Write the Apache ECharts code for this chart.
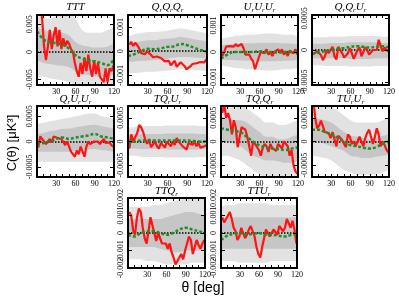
<!DOCTYPE html>
<html><head><meta charset="utf-8">
<script src="https://cdn.jsdelivr.net/npm/echarts@6/dist/echarts.min.js"></script>
<style>html,body{margin:0;padding:0;background:#fff}#c{width:399px;height:301px}</style>
</head><body><div id="c"></div>
<script>
// ---- shared axes data ----
const thetaRed = [2,5,8,11,14,17,20,23,26,29,32,35,38,41,44,47,50,53,56,59,62,65,68,71,74,77,80,83,86,89,92,95,98,101,104,107,110,113,116,119];
const thetaBand = [0,10,20,30,40,50,60,70,80,90,100,110,120];
const xTickValues = [10,20,30,40,50,60,70,80,90,100,110];
const xTickLabels = [30,60,90,120];

// ---- TTT ----
const tttRed = [0.010,0.009,0.006,0.001,-0.0015,0.001,0.004,0.0005,0.003,0.0045,0.001,0.004,0.0005,0.0025,0.001,0.002,0.0015,0.0005,0,-0.002,-0.0035,-0.0045,-0.002,-0.004,-0.001,-0.0035,-0.0005,-0.003,-0.0045,-0.0015,-0.004,-0.002,-0.0045,-0.0045,-0.0055,-0.003,-0.0055,-0.003,-0.0035,-0.0025];
const tttGreen = [0.0037,0.0023,0.0018,0.0016,0.0013,0.0006,-0.0006,-0.0012,-0.0015,-0.0017,-0.002,-0.0024,-0.0013];
const tttOuterLo = [-0.0045,-0.0045,-0.0048,-0.005,-0.0052,-0.0055,-0.006,-0.0065,-0.007,-0.007,-0.007,-0.007,-0.0065];
const tttInnerLo = [-0.0015,-0.002,-0.0022,-0.0024,-0.0025,-0.0028,-0.0035,-0.004,-0.0042,-0.0044,-0.0045,-0.0045,-0.004];
const tttInnerHi = [0.0045,0.004,0.0038,0.0037,0.0035,0.003,0.0018,0.0012,0.001,0.0008,0.0008,0.001,0.0015];
const tttOuterHi = [0.0065,0.0062,0.006,0.0065,0.007,0.007,0.006,0.004,0.0035,0.0035,0.0035,0.004,0.0045];
const tttTicks = [-0.005,0,0.005];

// ---- QrQrQr ----
const qqqRed = [0.00028,0.00038,0.00022,0.00035,0.00025,0.00012,-0.00008,-0.00015,-0.00012,0,-0.00005,-0.00015,-0.00025,-0.0002,-0.00022,-0.0003,-0.00028,-0.00028,-0.00042,-0.00045,-0.0004,-0.00058,-0.0005,-0.0004,-0.00065,-0.00058,-0.00046,-0.0004,-0.00062,-0.00075,-0.0008,-0.00062,-0.00053,-0.00055,-0.0005,-0.00055,-0.00045,-0.0004,-0.00046,-0.00033];
const qqqGreen = [-0.0002,-0.00012,0,0.0001,0.00008,0.00012,0.00018,0.0002,0.0003,0.00025,0.00015,0.00005,0];
const qqqOuterLo = [-0.0009,-0.0009,-0.00088,-0.00085,-0.00085,-0.00082,-0.0008,-0.00078,-0.00075,-0.00075,-0.00078,-0.0008,-0.00082];
const qqqInnerLo = [-0.00045,-0.00043,-0.0004,-0.00038,-0.00036,-0.00034,-0.0003,-0.00027,-0.00024,-0.00024,-0.00026,-0.00028,-0.0003];
const qqqInnerHi = [0.0003,0.00035,0.0004,0.00045,0.00045,0.0005,0.00052,0.00055,0.0006,0.00055,0.0005,0.00045,0.0004];
const qqqOuterHi = [0.0006,0.0007,0.00075,0.0008,0.0008,0.00082,0.00085,0.0009,0.00095,0.0009,0.00085,0.0008,0.00075];
const qqqTicks = [-0.001,0,0.001];

// ---- UrUrUr ----
const uuuRed = [-0.00015,0,0.0002,0.00015,0.00022,0.00015,0.0002,0.0003,0.00022,0.0002,0.0003,0.00015,-0.0001,-0.00015,-0.0001,-0.00025,-0.00035,-0.00065,-0.0006,-0.0002,0,0,-0.00005,0.0001,-0.0001,0,-0.00015,0,0,0.0001,0,0.0001,-0.0001,0,-0.00015,0.00005,0.0001,-0.00005,0.0001,-0.0001];
const uuuGreen = [-0.00025,-0.0001,0,0,0,0,0.00003,0,0,-0.00003,0,0,0];
const uuuOuterLo = [-0.0005,-0.00055,-0.0006,-0.00062,-0.00065,-0.00065,-0.00068,-0.0007,-0.0007,-0.00068,-0.00065,-0.00065,-0.0006];
const uuuInnerLo = [-0.00028,-0.0003,-0.0003,-0.00032,-0.00033,-0.00033,-0.00035,-0.00035,-0.00035,-0.00034,-0.00033,-0.00032,-0.0003];
const uuuInnerHi = [0.00025,0.00028,0.0003,0.00032,0.00033,0.00033,0.00035,0.00035,0.00035,0.00034,0.00033,0.00032,0.0003];
const uuuOuterHi = [0.0005,0.00055,0.0006,0.00062,0.00065,0.00065,0.00068,0.0007,0.0007,0.00068,0.00065,0.00065,0.0006];
const uuuTicks = [-0.001,0,0.001];

// ---- QrQrUr ----
const qquRed = [-0.00007,-0.00009,-0.00002,0,-0.00008,-0.00016,-0.0001,0,-0.00005,-0.00002,0.00005,-0.0001,-0.00015,0.00005,0,-0.00005,-0.00012,-0.00015,-0.00005,0.00003,-0.00005,-0.00014,-0.00012,0,0.00004,-0.0001,-0.00008,0.00004,0,-0.00007,-0.00004,0,0.00003,0,0.00016,0.00006,-0.00002,0.00004,0,-0.00002];
const qquGreen = [-0.00006,-0.00004,-0.00002,0,0.00002,0.00003,0.00005,0.00006,0.00005,0.00004,0.00005,0.00006,0.00004];
const qquOuterLo = [-0.00024,-0.00024,-0.00025,-0.00025,-0.00025,-0.00025,-0.00026,-0.00026,-0.00026,-0.00026,-0.00025,-0.00025,-0.00025];
const qquInnerLo = [-0.00013,-0.00013,-0.00013,-0.00013,-0.00013,-0.00013,-0.00014,-0.00014,-0.00014,-0.00014,-0.00013,-0.00013,-0.00013];
const qquInnerHi = [0.0001,0.0001,0.0001,0.00011,0.00011,0.00011,0.00012,0.00012,0.00012,0.00012,0.00012,0.00011,0.00011];
const qquOuterHi = [0.0002,0.0002,0.0002,0.00021,0.00021,0.00021,0.00022,0.00022,0.00022,0.00022,0.00022,0.00021,0.00021];
const qquTicks = [-0.0005,0,0.0005];

// ---- QrUrUr ----
const quuRed = [-0.00012,0.0001,0.00012,0,-0.00005,0,0.00005,-0.00002,0.0001,0.0001,0.00007,0.0001,0.00005,0.00005,-0.00007,0,-0.0001,-0.0002,-0.00018,-0.0003,-0.00018,-0.00025,-0.0001,-0.0002,-0.0003,-0.0001,0,-0.00005,-0.00003,0,-0.00003,0,-0.00005,0,0.00005,-0.00003,0,-0.00002,-0.00007,-0.0001];
const quuGreen = [-0.00005,-0.00003,0,0.00005,0.00008,0.00005,0.00008,0.0001,0.00012,0.00015,0.0001,0.00008,0.00005];
const quuOuterLo = [-0.0004,-0.0004,-0.0004,-0.0004,-0.0004,-0.0004,-0.0004,-0.0004,-0.0004,-0.0004,-0.0004,-0.0004,-0.0004];
const quuInnerLo = [-0.0002,-0.0002,-0.0002,-0.0002,-0.0002,-0.0002,-0.00018,-0.00017,-0.00016,-0.00015,-0.00017,-0.00018,-0.0002];
const quuInnerHi = [0.00015,0.00017,0.0002,0.00022,0.00025,0.00025,0.00028,0.0003,0.00032,0.00033,0.0003,0.00028,0.00025];
const quuOuterHi = [0.00035,0.00037,0.0004,0.00042,0.00045,0.00047,0.0005,0.00052,0.00055,0.00055,0.0005,0.00048,0.00045];
const quuTicks = [-0.0005,0,0.0005];

// ---- TQrUr ----
const tquRed = [-0.00015,0.00015,0,-0.00003,0.00018,0.00035,0.0003,0.0002,0.00005,-0.00005,0.00005,-0.00012,-0.0001,0,-0.0001,-0.00015,-0.00003,-0.00005,-0.00013,0,-0.00003,-0.0001,0,-0.00007,0.00007,0,-0.00005,-0.0001,-0.0001,-0.00017,-0.00003,0,-0.00007,0,-0.0001,-0.00003,-0.00013,-0.00017,-0.0001,-0.00008];
const tquGreen = [-0.00003,0,0.00002,0.00002,0.00002,0.00002,0.00002,0.00002,0.00002,0.00002,0.00001,0,0];
const tquOuterLo = [-0.0003,-0.0003,-0.00032,-0.00033,-0.00033,-0.00033,-0.00034,-0.00034,-0.00034,-0.00034,-0.00034,-0.00033,-0.00033];
const tquInnerLo = [-0.00015,-0.00015,-0.00016,-0.00016,-0.00016,-0.00016,-0.00017,-0.00017,-0.00017,-0.00017,-0.00017,-0.00016,-0.00016];
const tquInnerHi = [0.00015,0.00015,0.00016,0.00016,0.00016,0.00016,0.00017,0.00017,0.00017,0.00017,0.00017,0.00016,0.00016];
const tquOuterHi = [0.0003,0.0003,0.00032,0.00033,0.00033,0.00033,0.00034,0.00034,0.00034,0.00034,0.00034,0.00033,0.00033];
const tquTicks = [-0.0005,0,0.0005];

// ---- TQrQr ----
const tqqRed = [0.0006,0.0008,0.0005,0.0006,0.00045,0.00015,0.00045,0.0003,-0.00012,-0.0001,0.0003,0.0003,0.00025,0.0001,-0.0001,-0.0003,0,-0.00005,-0.00007,-0.00018,-0.0003,-0.00014,-0.00005,-0.0001,-0.00022,-0.00005,-0.00014,-0.00012,-0.0002,-0.00005,-0.0001,-0.00015,0,-0.00003,-0.0001,-0.0003,-0.00018,-0.0005,-0.00063,-0.00068];
const tqqGreen = [0.00028,0.00025,0.00022,0.0002,0.0001,0,-0.00008,-0.00013,-0.00015,-0.00016,-0.00018,-0.00015,-0.00012];
const tqqOuterLo = [-0.0003,-0.0003,-0.00035,-0.0004,-0.0005,-0.0006,-0.0007,-0.0008,-0.0008,-0.0008,-0.0008,-0.0008,-0.0008];
const tqqInnerLo = [0,0,-0.00005,-0.0001,-0.0002,-0.0003,-0.00035,-0.0004,-0.0004,-0.00042,-0.00045,-0.00045,-0.0004];
const tqqInnerHi = [0.0005,0.0005,0.00045,0.00045,0.0004,0.0003,0.0002,0.0001,0.0001,0.00005,0.00005,0.0001,0.00015];
const tqqOuterHi = [0.0009,0.0009,0.0008,0.0008,0.0007,0.0006,0.0005,0.0004,0.0004,0.00035,0.00035,0.0004,0.00045];
const tqqTicks = [-0.0005,0,0.0005];

// ---- TUrUr ----
const tuuRed = [0.0009,0.0005,0.00028,0.00033,0.00044,0.0004,0.0002,0.0002,0.00018,0.00007,0.0002,0.00005,-0.0001,0.00012,0.0001,0.00003,-0.00005,-0.00012,0.00015,0.0001,-0.00005,0,-0.0001,-0.00012,0.0001,0,-0.0001,0.00007,0.00018,0.00025,0.0001,-0.00005,0.0001,0.00028,0.00014,-0.0001,0,-0.00007,-0.00017,-0.00023];
const tuuGreen = [0.00025,0.00025,0.0002,0.00015,0.00008,0,-0.00008,-0.0001,-0.00013,-0.00015,-0.00012,-0.00005,0];
const tuuOuterLo = [-0.0003,-0.00032,-0.00035,-0.0004,-0.0005,-0.0006,-0.00065,-0.0007,-0.0007,-0.0007,-0.0007,-0.00065,-0.0006];
const tuuInnerLo = [0,0,-0.00005,-0.0001,-0.00015,-0.0002,-0.0003,-0.00032,-0.00035,-0.00035,-0.00032,-0.0003,-0.00028];
const tuuInnerHi = [0.0005,0.00048,0.00045,0.0004,0.0003,0.0002,0.00012,0.0001,0.00008,0.00005,0.00008,0.00012,0.00015];
const tuuOuterHi = [0.0009,0.00085,0.0008,0.00075,0.00065,0.00055,0.00045,0.0004,0.0004,0.0004,0.0004,0.00045,0.0005];
const tuuTicks = [-0.0005,0,0.0005];

// ---- TTQr ----
const ttqRed = [0.0012,0.001,0.00015,-0.0001,0.0009,0.0014,0.0012,0.0003,-0.0003,-0.0006,0.0001,0.0009,0.0009,0,-0.00045,0,-0.0003,-0.0006,-0.0005,-0.0006,-0.0009,-0.0006,-0.0011,-0.0014,-0.0018,-0.0018,-0.0014,-0.0012,-0.0015,-0.001,-0.0006,-0.0002,-0.0004,-0.0012,-0.0008,-0.0004,-0.0007,-0.0009,-0.0006,-0.0004];
const ttqGreen = [-0.0001,-0.0002,0,0.00008,0.0001,0,-0.0001,0,0.0002,0.0003,0.0002,0.0001,0];
const ttqOuterLo = [-0.0015,-0.0015,-0.0015,-0.0016,-0.0016,-0.0017,-0.0018,-0.0018,-0.0018,-0.0018,-0.0017,-0.0017,-0.0017];
const ttqInnerLo = [-0.0008,-0.0008,-0.0008,-0.0008,-0.0008,-0.0009,-0.001,-0.0011,-0.0011,-0.001,-0.001,-0.001,-0.001];
const ttqInnerHi = [0.0008,0.0008,0.0008,0.0008,0.0008,0.0008,0.0009,0.001,0.0011,0.0012,0.0012,0.0011,0.001];
const ttqOuterHi = [0.0015,0.0015,0.0015,0.0015,0.0016,0.0016,0.0017,0.0018,0.0019,0.002,0.002,0.002,0.0019];
const ttqTicks = [-0.002,-0.001,0,0.001,0.002];

// ---- TTUr ----
const ttuRed = [0.0009,0.0006,0.0008,0.0008,0.0012,0.0008,0.0003,0.0001,-0.0004,-0.0002,0.0003,0,-0.0003,-0.0001,0.0002,0.0004,0.0003,-0.0002,-0.0008,-0.0012,-0.0014,-0.0008,-0.0003,0.0002,0.0002,-0.0002,0,0.0002,0.0001,-0.0001,0.0004,0.0005,0.0001,0.0003,0.0008,0.0007,0.0003,0.0007,0.0002,-0.0006];
const ttuGreen = [-0.0004,-0.00015,-0.00005,0,-0.0001,-0.00005,0,-0.0001,-0.0001,-0.00015,-0.0002,-0.00012,-0.00005];
const ttuOuterLo = [-0.0016,-0.0016,-0.0016,-0.0017,-0.0017,-0.0017,-0.0017,-0.0017,-0.0016,-0.0016,-0.0016,-0.0016,-0.0016];
const ttuInnerLo = [-0.0009,-0.0009,-0.0009,-0.0009,-0.0009,-0.0009,-0.0009,-0.0009,-0.0009,-0.0009,-0.0009,-0.0009,-0.0009];
const ttuInnerHi = [0.0008,0.0009,0.0009,0.0009,0.0009,0.0009,0.0009,0.0009,0.0009,0.0009,0.0009,0.0009,0.0009];
const ttuOuterHi = [0.0015,0.0016,0.0016,0.0017,0.0017,0.0017,0.0017,0.0017,0.0016,0.0016,0.0016,0.0016,0.0016];
const ttuTicks = [-0.002,-0.001,0,0.001,0.002];

const panels = [
  {t:'{i|TTT}', red:tttRed, green:tttGreen, b:[tttOuterLo,tttInnerLo,tttInnerHi,tttOuterHi], min:-0.006, max:0.0067, ticks:tttTicks},
  {t:'{i|Q}{s|r}{i|Q}{s|r}{i|Q}{s|r}', red:qqqRed, green:qqqGreen, b:[qqqOuterLo,qqqInnerLo,qqqInnerHi,qqqOuterHi], min:-0.0014, max:0.0015, ticks:qqqTicks},
  {t:'{i|U}{s|r}{i|U}{s|r}{i|U}{s|r}', red:uuuRed, green:uuuGreen, b:[uuuOuterLo,uuuInnerLo,uuuInnerHi,uuuOuterHi], min:-0.00125, max:0.0014, ticks:uuuTicks},
  {t:'{i|Q}{s|r}{i|Q}{s|r}{i|U}{s|r}', red:qquRed, green:qquGreen, b:[qquOuterLo,qquInnerLo,qquInnerHi,qquOuterHi], min:-0.00055, max:0.00055, ticks:qquTicks},
  {t:'{i|Q}{s|r}{i|U}{s|r}{i|U}{s|r}', red:quuRed, green:quuGreen, b:[quuOuterLo,quuInnerLo,quuInnerHi,quuOuterHi], min:-0.0007, max:0.0007, ticks:quuTicks},
  {t:'{i|TQ}{s|r}{i|U}{s|r}', red:tquRed, green:tquGreen, b:[tquOuterLo,tquInnerLo,tquInnerHi,tquOuterHi], min:-0.00075, max:0.00075, ticks:tquTicks},
  {t:'{i|TQ}{s|r}{i|Q}{s|r}', red:tqqRed, green:tqqGreen, b:[tqqOuterLo,tqqInnerLo,tqqInnerHi,tqqOuterHi], min:-0.00075, max:0.00075, ticks:tqqTicks},
  {t:'{i|TU}{s|r}{i|U}{s|r}', red:tuuRed, green:tuuGreen, b:[tuuOuterLo,tuuInnerLo,tuuInnerHi,tuuOuterHi], min:-0.00075, max:0.00075, ticks:tuuTicks},
  {t:'{i|TTQ}{s|r}', red:ttqRed, green:ttqGreen, b:[ttqOuterLo,ttqInnerLo,ttqInnerHi,ttqOuterHi], min:-0.002, max:0.002, ticks:ttqTicks},
  {t:'{i|TTU}{s|r}', red:ttuRed, green:ttuGreen, b:[ttuOuterLo,ttuInnerLo,ttuInnerHi,ttuOuterHi], min:-0.002, max:0.002, ticks:ttuTicks}
];

// layout: [left, top, width, height]
const layout = [[37,15,77,70],[128,15,79,70],[221,15,77,70],[312,15,77,70],
  [37,106,77,71],[128,106,79,71],[221,106,77,71],[312,106,77,71],
  [128,198,77,70],[221,198,76,70]];

const LIGHT = '#e2e2e2', DARK = '#c6c6c6';
const SERIF = '"Liberation Serif","DejaVu Serif",serif';
const zip = (xs, ys) => xs.slice(0, ys.length).map((x, k) => [x, ys[k]]);

const grid = [], xAxis = [], yAxis = [], series = [], graphic = [];
const rich = {
  i: {fontFamily: SERIF, fontStyle: 'italic', fontSize: 11, lineHeight: 13, fill: '#000', color: '#000'},
  s: {fontFamily: SERIF, fontStyle: 'italic', fontSize: 7, lineHeight: 7, verticalAlign: 'bottom', fill: '#000', color: '#000'}
};
const yLabelStyle = {show: true, rotate: 90, fontSize: 8, fontFamily: SERIF, color: '#000', margin: 3,
  showMinLabel: true, showMaxLabel: true, hideOverlap: false, formatter: v => String(v)};

panels.forEach((p, i) => {
  const [l, t, w, h] = layout[i];
  grid.push({left: l, top: t, width: w, height: h, containLabel: false});
  const axLine = {show: true, onZero: false, lineStyle: {color: '#000', width: 2}};
  const xi = xAxis.length, yi = yAxis.length;
  const xBase = {gridIndex: i, type: 'value', min: 0, max: 120, z: 10, axisLine: axLine, splitLine: {show: false},
    axisTick: {show: true, inside: true, length: 3, customValues: xTickValues, lineStyle: {color: '#000', width: 1}}};
  xAxis.push(Object.assign({}, xBase, {position: 'bottom',
    axisLabel: {show: true, customValues: xTickLabels, fontSize: 8, fontFamily: SERIF, color: '#000', margin: 3}}));
  xAxis.push(Object.assign({}, xBase, {position: 'top', axisLabel: {show: false}}));
  const yBase = {gridIndex: i, type: 'value', min: p.min, max: p.max, z: 10, axisLine: axLine, splitLine: {show: false},
    axisTick: {show: true, inside: true, length: 4, customValues: p.ticks, lineStyle: {color: '#000', width: 1}}};
  // alternate labels go on a second, line-less left axis so that overlapping labels are all drawn
  const mainLabels = p.ticks.filter((v, k) => p.ticks.length < 5 || k % 2 === 0);
  const altLabels = p.ticks.filter((v, k) => p.ticks.length >= 5 && k % 2 === 1);
  yAxis.push(Object.assign({}, yBase, {position: 'left', axisLabel: Object.assign({}, yLabelStyle, {customValues: mainLabels})}));
  yAxis.push(Object.assign({}, yBase, {position: 'right', axisLabel: {show: false}}));
  if (altLabels.length) {
    yAxis.push({gridIndex: i, type: 'value', min: p.min, max: p.max, z: 10, position: 'left',
      axisLine: {show: false, onZero: false}, axisTick: {show: false}, splitLine: {show: false},
      axisLabel: Object.assign({}, yLabelStyle, {customValues: altLabels})});
  }

  const [oLo, iLo, iHi, oHi] = p.b;
  // layered opaque fills down to the axis minimum
  [[oHi, LIGHT], [iHi, DARK], [iLo, LIGHT], [oLo, '#ffffff']].forEach(([d, c]) => {
    series.push({type: 'line', xAxisIndex: xi, yAxisIndex: yi, data: zip(thetaBand, d), symbol: 'none', smooth: 0.3,
      silent: true, z: 1, lineStyle: {width: 0, opacity: 0}, areaStyle: {color: c, opacity: 1, origin: 'start'}});
  });
  series.push({type: 'line', xAxisIndex: xi, yAxisIndex: yi, data: zip(thetaRed, p.red), symbol: 'none', z: 4,
    lineStyle: {color: '#ff1414', width: 2.2}});
  series.push({type: 'line', xAxisIndex: xi, yAxisIndex: yi, data: zip(thetaBand, p.green), symbol: 'none', smooth: 0.4, z: 5,
    lineStyle: {color: '#1f8f23', width: 2.5, type: [3, 2]},
    markLine: {silent: true, symbol: 'none', label: {show: false}, data: [{yAxis: 0}],
      lineStyle: {color: '#000', width: 1.5, type: [1.5, 1.5]}, z: 3}});

  const ty = t < 50 ? 7 : (t < 150 ? 99 : 191);
  graphic.push({type: 'text', x: l + w / 2, y: ty, z: 100,
    style: {text: p.t, rich: rich, align: 'center', verticalAlign: 'middle', fill: '#000'}});
});

graphic.push({type: 'text', x: 12, y: 143, rotation: Math.PI / 2, z: 100,
  style: {text: 'C(θ) [μK³]', font: '13px "Liberation Sans", Arial, sans-serif', align: 'center', verticalAlign: 'middle', fill: '#000'}});
graphic.push({type: 'text', x: 203, y: 288, z: 100,
  style: {text: 'θ [deg]', font: '14px "Liberation Sans", Arial, sans-serif', align: 'center', verticalAlign: 'middle', fill: '#000'}});

const chart = echarts.init(document.getElementById('c'), null, {renderer: 'canvas'});
chart.setOption({animation: false, backgroundColor: '#fff', grid, xAxis, yAxis, series, graphic});
</script></body></html>
